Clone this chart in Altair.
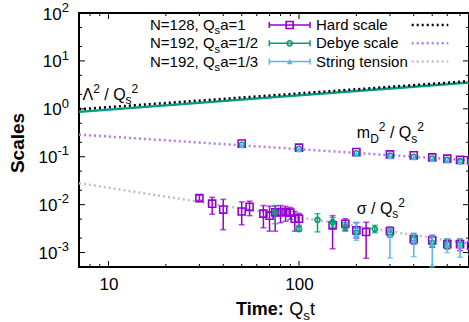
import altair as alt
import pandas as pd

# ---------------- data ----------------
fit_t = [7, 780]
hard_fit = [0.98, 3.78]
debye_fit = [0.29, 0.084]
string_fit = [0.028, 0.00154]

hard_t = [7, 20, 50, 100, 200, 400, 780]
hard_n192_half = [0.859, 1.17, 1.54, 1.90, 2.33, 2.87, 3.51]
hard_n192_third = [0.88, 1.20, 1.58, 1.95, 2.40, 2.96, 3.62]

debye_t = [50, 100, 200, 300, 400, 500, 600, 700, 800]
debye_n128 = [0.188, 0.155, 0.125, 0.112, 0.107, 0.097, 0.091, 0.086, 0.084]
debye_n192_half = [0.178, 0.146, 0.118, 0.106, 0.100, 0.092, 0.086, 0.081, 0.079]
debye_n192_third = [0.170, 0.140, 0.112, 0.100, 0.095, 0.088, 0.082, 0.078, 0.075]

sig128_t = [30, 35, 40, 50, 55, 65, 70, 75, 80, 85, 90, 95, 100, 150, 175, 200, 225, 300, 400, 500, 600, 700, 800]
sig128_v = [0.0137, 0.0105, 0.0079, 0.0072, 0.0090, 0.0065, 0.0059, 0.0069, 0.0070, 0.0070, 0.0068, 0.0051, 0.0051,
            0.0037, 0.0040, 0.0029, 0.0027, 0.0028, 0.0019, 0.0018, 0.0015, 0.0015, 0.0014]
sig128_lo = [0.0123, 0.0063, 0.0030, 0.0038, 0.0059, 0.0033, 0.0028, 0.0028, 0.0042, 0.0045, 0.0049, 0.0028, 0.0035,
             0.0012, 0.0029, 0.0020, 0.00076, 0.0022, 0.0015, 0.0013, 0.0012, 0.0011, 0.0010]
sig128_hi = [0.0156, 0.0142, 0.0129, 0.0114, 0.0118, 0.0096, 0.0093, 0.0093, 0.0096, 0.0092, 0.0087, 0.0072, 0.0066,
             0.0059, 0.0051, 0.0042, 0.0043, 0.0034, 0.0025, 0.0023, 0.0019, 0.0019, 0.0018]

sig192h_t = [75, 100, 125, 150, 175, 200, 250, 300, 400, 500, 600, 700]
sig192h_v = [0.0068, 0.0031, 0.0048, 0.0043, 0.0034, 0.0026, 0.0031, 0.0025, 0.0019, 0.0016, 0.0015, 0.0015]
sig192h_lo = [0.0040, 0.0028, 0.0027, 0.0034, 0.0028, 0.0022, 0.0026, 0.0021, 0.0016, 0.0013, 0.0012, 0.0013]
sig192h_hi = [0.0096, 0.0037, 0.0065, 0.0054, 0.0042, 0.0032, 0.0037, 0.0030, 0.0023, 0.0021, 0.0019, 0.0019]

sig192t_t = [200, 300, 400, 500, 600, 700, 800]
sig192t_v = [0.0023, 0.0023, 0.0018, 0.0015, 0.0014, 0.0014, 0.0013]
sig192t_lo = [0.0018, 0.00077, 0.00082, 0.0005, 0.0010, 0.0008, 0.0009]
sig192t_hi = [0.0043, 0.0032, 0.0025, 0.0022, 0.0019, 0.0019, 0.0017]

lattice_N = ["128", "192", "192"]
lattice_a = ["1", "1/2", "1/3"]
fit_names = ["Hard scale", "Debye scale", "String tension"]
x_tick_labels = [10, 100]
y_decades = [-3, -2, -1, 0, 1, 2]

# ---------------- style / layout ----------------
W, H = 390, 254
FONT = "Liberation Sans"
PURPLE, TEAL, BLUE = "#9400d3", "#009e73", "#56b4e9"
FIT_COLORS = ["#000000", "#b57bee", "#c0c0c0"]
DASH = [2, 3]

REG = {' ': 278, '/': 278, ',': 278, '=': 584, 'N': 722, 'Q': 778, 's': 500, 'a': 556, 'm': 833,
       'D': 722, 't': 278, 'Λ': 667, 'σ': 600, '-': 333, ':': 278}
BOLD = {'T': 611, 'i': 278, 'm': 889, 'e': 556, ':': 333, ' ': 278}


def twidth(text, size, bold=False):
    tab = BOLD if bold else REG
    return sum(tab.get(c, 556) for c in text) * size / 1000.0


def layout(parts, size):
    """Split rich text into pieces; leading spaces are turned into offsets (SVG trims them)."""
    out, x = [], 0.0
    for text, kind in parts:
        if kind in ("sub", "sup"):
            fs = size * 0.75
            dy = size * 0.28 if kind == "sub" else -size * 0.45
        else:
            fs, dy = size, 0.0
        bold = kind == "b"
        stripped = text.lstrip(" ")
        x += twidth(text[:len(text) - len(stripped)], fs, bold)
        out.append((stripped, x, dy, fs, bold))
        x += twidth(stripped, fs, bold)
    return out, x


xscale = alt.Scale(type="log", domain=[7, 780], nice=False)
yscale = alt.Scale(type="log", domain=[5e-4, 100], nice=False)
xaxis = alt.Axis(values=x_tick_labels, format="d", labelFontSize=17, labelFont=FONT, labelColor="black",
                 ticks=False, domain=False, grid=False, title=None, labelPadding=9)


def X(f):
    return alt.X(f"{f}:Q", scale=xscale, axis=xaxis)


def Y(f):
    return alt.Y(f"{f}:Q", scale=yscale, axis=None)


one = pd.DataFrame({"d": [0]})
layers = []

# inward ticks on all four sides
xmin = [m * 10 ** k for k in range(0, 3) for m in range(2, 10) if 7 < m * 10 ** k < 780]
ymaj = [10.0 ** k for k in y_decades]
ymin = [m * 10.0 ** k for k in range(-3, 2) for m in (2, 5)]
for vals, ln in ((x_tick_labels, 6), (xmin, 3)):
    d = alt.Chart(pd.DataFrame({"t": vals}))
    layers.append(d.mark_rule(color="black", strokeWidth=1).encode(x=X("t"), y=alt.value(H), y2=alt.value(H - ln)))
    layers.append(d.mark_rule(color="black", strokeWidth=1).encode(x=X("t"), y=alt.value(0), y2=alt.value(ln)))
for vals, ln in ((ymaj, 6), (ymin, 3)):
    d = alt.Chart(pd.DataFrame({"v": vals}))
    layers.append(d.mark_rule(color="black", strokeWidth=1).encode(y=Y("v"), x=alt.value(0), x2=alt.value(ln)))
    layers.append(d.mark_rule(color="black", strokeWidth=1).encode(y=Y("v"), x=alt.value(W), x2=alt.value(W - ln)))

# hard-scale lattice lines
hdf = pd.DataFrame({"t": hard_t, "a": hard_n192_third, "b": hard_n192_half})
layers.append(alt.Chart(hdf).mark_line(color=BLUE, strokeWidth=2).encode(x=X("t"), y=Y("a")))
layers.append(alt.Chart(hdf).mark_line(color=TEAL, strokeWidth=2).encode(x=X("t"), y=Y("b")))

# fit lines
fdf = pd.DataFrame({"t": fit_t, "h": hard_fit, "d": debye_fit, "s": string_fit})
for col, c in zip(["s", "d", "h"], [FIT_COLORS[2], FIT_COLORS[1], FIT_COLORS[0]]):
    layers.append(alt.Chart(fdf).mark_line(color=c, strokeWidth=2.5, strokeDash=DASH).encode(x=X("t"), y=Y(col)))

MARKERS = [("square", False, 50, PURPLE), ("circle", False, 26, TEAL), ("triangle-up", True, 34, BLUE)]


def point_layer(df, field, m):
    shape, filled, size, color = m
    return alt.Chart(df).mark_point(shape=shape, filled=filled, size=size, color=color, strokeWidth=1.6,
                                    opacity=1).encode(x=X("t"), y=Y(field))


# Debye points
ddf = pd.DataFrame({"t": debye_t, "a": debye_n128, "b": debye_n192_half, "c": debye_n192_third})
for field, m in zip(["a", "b", "c"], MARKERS):
    layers.append(point_layer(ddf, field, m))

# string tension with error bars
for (t, v, lo, hi), m in zip([(sig128_t, sig128_v, sig128_lo, sig128_hi),
                              (sig192h_t, sig192h_v, sig192h_lo, sig192h_hi),
                              (sig192t_t, sig192t_v, sig192t_lo, sig192t_hi)], MARKERS):
    df = pd.DataFrame({"t": t, "v": v, "lo": lo, "hi": hi})
    b = alt.Chart(df)
    color = m[3]
    layers.append(b.mark_rule(color=color, strokeWidth=1.5).encode(x=X("t"), y=Y("lo"), y2="hi"))
    for f in ("lo", "hi"):
        layers.append(b.mark_tick(color=color, orient="horizontal", size=6, thickness=1.5).encode(x=X("t"), y=Y(f)))
    layers.append(point_layer(df, "v", m))

# in-plot annotations anchored at data coordinates
annots = [
    (7.3, 1.53, [("Λ", "n"), ("2", "sup"), (" / Q", "n"), ("s", "sub"), ("2", "sup")]),
    (201, 0.243, [("m", "n"), ("D", "sub"), ("2", "sup"), (" / Q", "n"), ("s", "sub"), ("2", "sup")]),
    (201, 0.0064, [("σ / Q", "n"), ("s", "sub"), ("2", "sup")]),
]
for at, av, parts in annots:
    adf = pd.DataFrame({"t": [at], "v": [av]})
    pcs, _ = layout(parts, 16)
    for text, dx, dy, fs, bold in pcs:
        layers.append(alt.Chart(adf).mark_text(text=text, align="left", baseline="alphabetic", dx=dx, dy=dy,
                                               fontSize=fs, font=FONT, color="black").encode(x=X("t"), y=Y("v")))

# y tick labels 10^k
for k in y_decades:
    ydf = pd.DataFrame({"v": [10.0 ** k]})
    exp = str(k)
    ew = twidth(exp, 13)
    layers.append(alt.Chart(ydf).mark_text(text="10", align="right", baseline="alphabetic", dy=6.5, fontSize=17,
                                           font=FONT, color="black").encode(x=alt.value(-10 - ew), y=Y("v")))
    layers.append(alt.Chart(ydf).mark_text(text=exp, align="right", baseline="alphabetic", dy=-1.3, fontSize=13,
                                           font=FONT, color="black").encode(x=alt.value(-10), y=Y("v")))


def px_text(text, x, y, fs, bold=False, **kw):
    return alt.Chart(one).mark_text(text=text, fontSize=fs, font=FONT, color="black",
                                    fontWeight="bold" if bold else "normal", **kw).encode(
        x=alt.value(x), y=alt.value(y))


# legend
ROW0, ROWSTEP = 12, 18.3
C1_TEXT, C1_L, C1_R, C2_TEXT, C2_L, C2_R = 71, 190.3, 231, 237, 332.7, 369.3
for i in range(3):
    yc = ROW0 + i * ROWSTEP
    pcs, _ = layout([(f"N={lattice_N[i]}, Q", "n"), ("s", "sub"), (f"a={lattice_a[i]}", "n")], 15)
    for text, dx, dy, fs, bold in pcs:
        layers.append(px_text(text, C1_TEXT + dx, yc + 5 + dy, fs, align="left", baseline="alphabetic"))
    shape, filled, size, color = MARKERS[i]
    layers.append(alt.Chart(one).mark_rule(color=color, strokeWidth=1.5).encode(
        x=alt.value(C1_L), x2=alt.value(C1_R), y=alt.value(yc)))
    for xe in (C1_L, C1_R):
        layers.append(alt.Chart(one).mark_rule(color=color, strokeWidth=1.5).encode(
            x=alt.value(xe), y=alt.value(yc - 3), y2=alt.value(yc + 3)))
    layers.append(alt.Chart(one).mark_point(shape=shape, filled=filled, size=size, color=color, strokeWidth=1.6,
                                            opacity=1).encode(x=alt.value((C1_L + C1_R) / 2), y=alt.value(yc)))
    layers.append(px_text(fit_names[i], C2_TEXT, yc + 5, 15, align="left", baseline="alphabetic"))
    layers.append(alt.Chart(one).mark_rule(color=FIT_COLORS[i], strokeWidth=2.5, strokeDash=DASH).encode(
        x=alt.value(C2_L), x2=alt.value(C2_R), y=alt.value(yc)))

# axis titles
pcs, tw = layout([("Time:", "b"), (" Q", "n"), ("s", "sub"), ("t", "n")], 18)
x0 = W / 2 + 1.5 - tw / 2
for text, dx, dy, fs, bold in pcs:
    layers.append(px_text(text, x0 + dx, 301.5 + dy, fs, bold, align="left", baseline="alphabetic"))
layers.append(px_text("Scales", -61, 130, 19, True, align="center", baseline="middle", angle=270))

chart = alt.layer(*layers).properties(
    width=W, height=H, background="white",
    autosize=alt.AutoSizeParams(type="none"),
    padding={"left": 79, "top": 13, "right": 0, "bottom": 55},
).configure_view(stroke="black", strokeWidth=2)

chart.save("out.html", embed_options={"renderer": "svg", "actions": False})
